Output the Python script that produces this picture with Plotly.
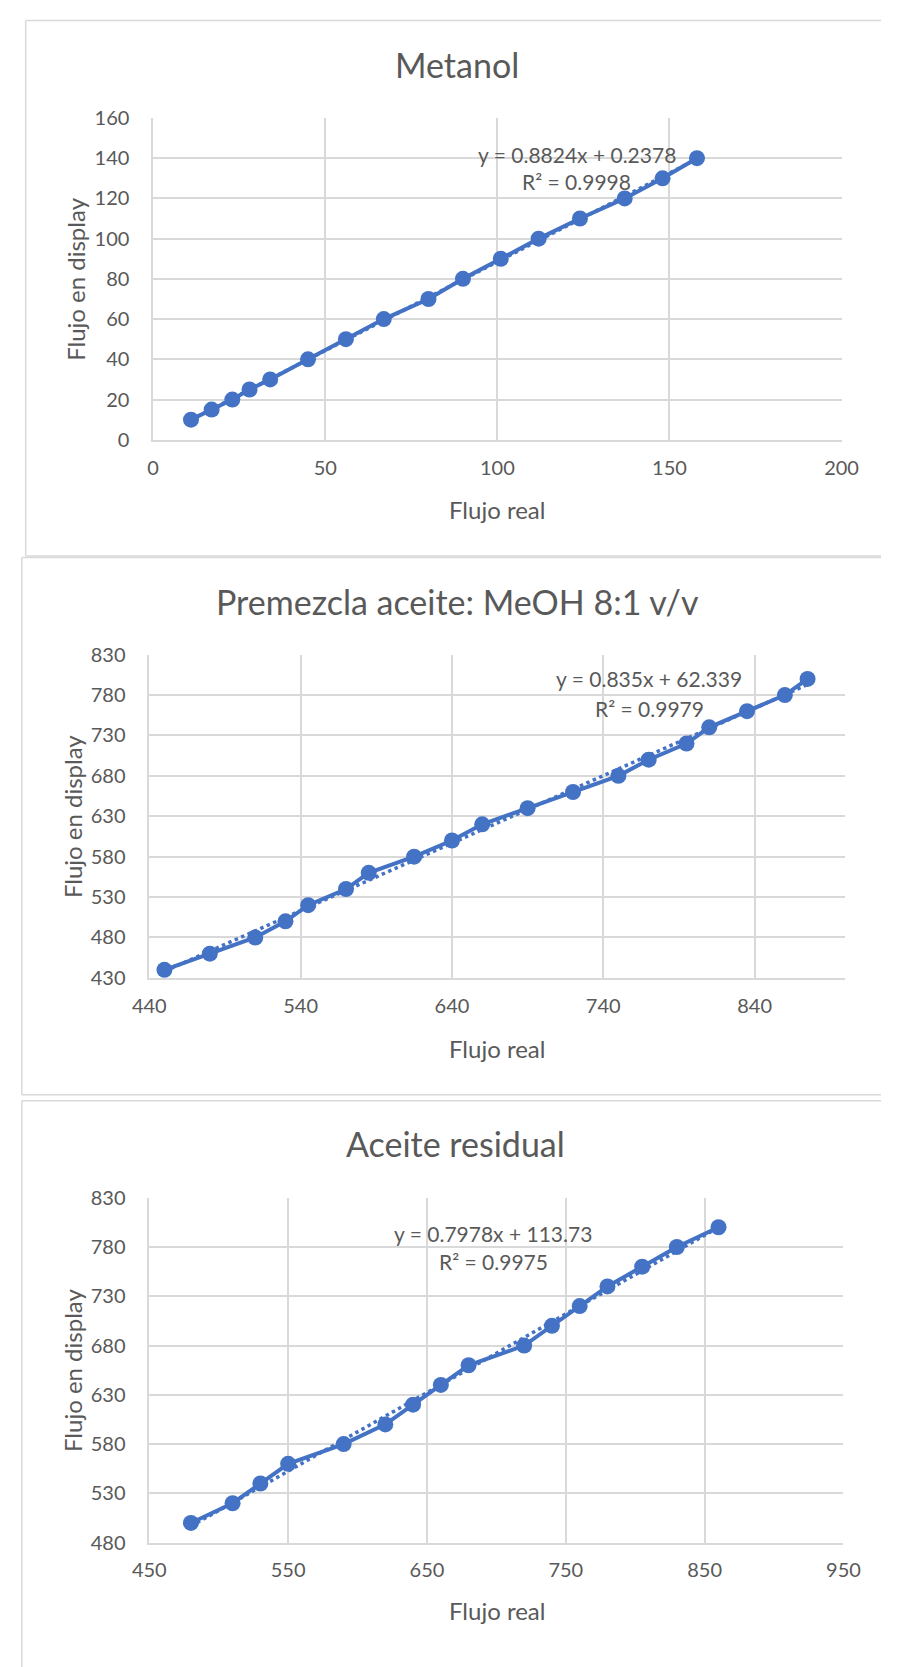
import plotly.graph_objects as go

W, H = 898, 1667

# ---------------- data ----------------
titles = ["Metanol", "Premezcla aceite: MeOH 8:1 v/v", "Aceite residual"]

met_real = [11, 17, 23, 28, 34, 45, 56, 67, 80, 90, 101, 112, 124, 137, 148, 158]
met_display = [10, 15, 20, 25, 30, 40, 50, 60, 70, 80, 90, 100, 110, 120, 130, 140]

pre_real = [450, 480, 510, 530, 545, 570, 585, 615, 640, 660, 690, 720, 750, 770, 795, 810, 835, 860, 875]
pre_display = [440, 460, 480, 500, 520, 540, 560, 580, 600, 620, 640, 660, 680, 700, 720, 740, 760, 780, 800]

res_real = [480, 510, 530, 550, 590, 620, 640, 660, 680, 720, 740, 760, 780, 805, 830, 860]
res_display = [500, 520, 540, 560, 580, 600, 620, 640, 660, 680, 700, 720, 740, 760, 780, 800]

# trendline coefficients (slope, intercept) as printed on the charts
met_fit = (0.8824, 0.2378)
pre_fit = (0.835, 62.339)
res_fit = (0.7978, 113.73)

eq_labels = ["y = 0.8824x + 0.2378", "y = 0.835x + 62.339", "y = 0.7978x + 113.73"]
r2_labels = ["R² = 0.9998", "R² = 0.9979", "R² = 0.9975"]

x_title = "Flujo real"
y_title = "Flujo en display"

# ---------------- styling / layout ----------------
BLUE = "#4472C4"
TXT = "#595959"
GRID = "#d9d9d9"
FONT = "Lato"

# plot areas in pixels (left, right, top, bottom)
areas = [(141.5, 857, 106.5, 433), (137.5, 861, 651, 979), (137.5, 859, 1202, 1552)]
xranges = [(0, 200), (440, 900), (450, 950)]
xdticks = [50, 100, 100]
yranges = [(0, 160), (430, 830), (480, 830)]
ydticks = [20, 50, 50]
# chart frames: left x, top y, bottom y (right edge lies outside the picture)
boxes = [(9, 7.5, 551), (5, 552.5, 1097.5), (5, 1103.7, 1680)]
title_pos = [(457, 52), (457.5, 597), (456, 1147)]
xtitle_pos = [(499, 503.5), (499, 1050.5), (499, 1621)]
ytitle_pos = [(60, 270), (57, 815), (57, 1377)]
eq_pos = [(582, 143.3), (657, 675.7), (495, 1238.3)]
r2_pos = [(582, 171), (657.5, 705.4), (495, 1266.7)]


def px(x, y):
    return x / W, 1 - y / H


series = [(met_real, met_display, met_fit), (pre_real, pre_display, pre_fit), (res_real, res_display, res_fit)]

fig = go.Figure()
annotations = []
shapes = []
layout_axes = {}

for i, (xs, ys, fit) in enumerate(series):
    n = i + 1
    xa = "x" if n == 1 else f"x{n}"
    ya = "y" if n == 1 else f"y{n}"
    fig.add_trace(go.Scatter(
        x=xs, y=ys, mode="lines+markers", xaxis=xa, yaxis=ya,
        line=dict(color=BLUE, width=4),
        marker=dict(color=BLUE, size=16, symbol="circle"),
        showlegend=False, hoverinfo="x+y",
    ))
    xmin, xmax = min(xs), max(xs)
    m, b = fit
    fig.add_trace(go.Scatter(
        x=[xmin, xmax], y=[m * xmin + b, m * xmax + b], mode="lines",
        xaxis=xa, yaxis=ya,
        line=dict(color=BLUE, width=3.5, dash="dot"),
        showlegend=False, hoverinfo="skip",
    ))

    l, r, t, btm = areas[i]
    x0, y0 = px(l, btm)
    x1, y1 = px(r, t)
    axis_common = dict(
        showgrid=True, gridcolor=GRID, gridwidth=1.5,
        zeroline=False, showline=True, linecolor=GRID, linewidth=1.5,
        ticks="outside", tickcolor="rgba(0,0,0,0)",
        tickfont=dict(family=FONT, size=20, color=TXT),
        fixedrange=True,
    )
    xkey = "xaxis" if n == 1 else f"xaxis{n}"
    ykey = "yaxis" if n == 1 else f"yaxis{n}"
    layout_axes[xkey] = dict(
        axis_common, domain=[x0, x1], range=list(xranges[i]),
        tick0=xranges[i][0], dtick=xdticks[i], ticklen=9,
        anchor=ya,
    )
    layout_axes[ykey] = dict(
        axis_common, domain=[y0, y1], range=list(yranges[i]),
        tick0=yranges[i][0], dtick=ydticks[i], ticklen=18,
        anchor=xa,
    )

    # chart frame: left, top and bottom edges only
    bx0, by0, by1 = boxes[i]
    frame_line = dict(color=GRID, width=1.5)
    for (sx0, sy0, sx1, sy1) in [(bx0, by0, W, by0), (bx0, by1, W, by1), (bx0, by0, bx0, by1)]:
        shapes.append(dict(type="line", xref="paper", yref="paper",
                           x0=sx0 / W, x1=sx1 / W, y0=1 - sy0 / H, y1=1 - sy1 / H,
                           line=frame_line, layer="below"))

    def ann(text, pos, size, angle=0):
        ax, ay = px(*pos)
        return dict(text=text, x=ax, y=ay, xref="paper", yref="paper",
                    xanchor="center", yanchor="middle", showarrow=False,
                    textangle=angle, font=dict(family=FONT, size=size, color=TXT))

    annotations.append(ann(titles[i], title_pos[i], 34))
    annotations.append(ann(x_title, xtitle_pos[i], 24))
    annotations.append(ann(y_title, ytitle_pos[i], 24, -90))
    annotations.append(ann(eq_labels[i], eq_pos[i], 21))
    annotations.append(ann(r2_labels[i], r2_pos[i], 21))

fig.update_layout(
    width=W, height=H,
    margin=dict(l=0, r=0, t=0, b=0),
    paper_bgcolor="white", plot_bgcolor="white",
    annotations=annotations, shapes=shapes,
    showlegend=False,
    **layout_axes,
)

fig.write_html(
    "out.html",
    config={"displayModeBar": False},
    post_script="document.body.style.margin='0';document.body.style.overflow='hidden';",
)
